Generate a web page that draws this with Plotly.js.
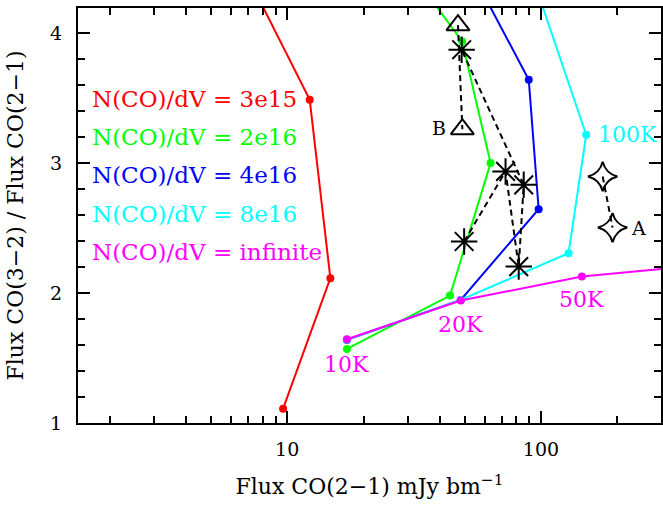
<!DOCTYPE html>
<html>
<head>
<meta charset="utf-8">
<script src="https://cdn.plot.ly/plotly-3.0.1.min.js"></script>
<style>html,body{margin:0;padding:0;background:#fff;}#chart{width:663px;height:506px;}</style>
</head>
<body>
<div id="chart"></div>
<script>
// Model tracks: points at 10K, 20K, 50K, 100K, (next point above the frame)
const redX = [9.64, 14.8, 12.27, 6.33];
const redY = [1.11, 2.114, 3.487, 4.6];
const greenX = [17.2, 43.8, 63.3, 48.9, 30.0];
const greenY = [1.570, 1.980, 2.999, 3.935, 4.5];
const blueX = [17.2, 48.3, 97.9, 89.5, 49.2];
const blueY = [1.639, 1.947, 2.645, 3.640, 4.6];
const cyanX = [17.2, 48.3, 128.4, 150.7, 86.5];
const cyanY = [1.640, 1.947, 2.306, 3.217, 4.6];
const magentaX = [17.2, 48.3, 144.9, 400];
const magentaY = [1.644, 1.942, 2.126, 2.21];

// Observed sources
const starX = [49.8, 72.5, 81.7, 85.5, 48.7];
const starY = [2.396, 2.935, 2.203, 2.832, 3.871];
const triX = [47.1, 49.0];
const triY = [4.06, 3.26];
const aX = [175, 191.4];
const aY = [2.896, 2.503];

const legendLabels = ['N(CO)/dV = 3e15', 'N(CO)/dV = 2e16', 'N(CO)/dV = 4e16', 'N(CO)/dV = 8e16', 'N(CO)/dV = infinite'];
const legendColors = ['#ff0000', '#00ff00', '#0000ff', '#00ffff', '#ff00ff'];

const tempLabels = ['10K', '20K', '50K', '100K'];
const tempLabelX = [17.2, 48.4, 145, 165.2];
const tempLabelY = [1.447, 1.754, 1.947, 3.217];
const tempLabelColors = ['#ff00ff', '#ff00ff', '#ff00ff', '#00ffff'];

const srcLabels = ['B', 'A'];
const srcLabelX = [39.7, 241.5];
const srcLabelY = [3.271, 2.50];

const xMajor = [10, 100];
const xMinor = [2,3,4,5,6,7,8,9,20,30,40,50,60,70,80,90,200,300];
const yMajor = [1, 2, 3, 4];

const FONT = 'DejaVu Serif';

function track(x, y, color) {
  return {x: x, y: y, type: 'scatter', mode: 'lines+markers',
    line: {color: color, width: 2}, marker: {color: color, size: 8},
    showlegend: false, hoverinfo: 'skip'};
}

const traces = [
  track(redX, redY, legendColors[0]),
  track(greenX, greenY, legendColors[1]),
  track(blueX, blueY, legendColors[2]),
  track(cyanX, cyanY, legendColors[3]),
  track(magentaX, magentaY, legendColors[4]),
  {x: starX, y: starY, type: 'scatter', mode: 'lines+markers',
   line: {color: '#000', width: 2, dash: '6px,4px'},
   marker: {symbol: 'asterisk-open', size: 22, line: {color: '#000', width: 2}},
   showlegend: false},
  {x: triX, y: triY, type: 'scatter', mode: 'lines+markers',
   line: {color: '#000', width: 2, dash: '6px,4px'},
   marker: {symbol: 'triangle-up-open', size: 20, color: '#000', line: {color: '#000', width: 2}},
   showlegend: false},
  {x: aX, y: aY, type: 'scatter', mode: 'lines+markers',
   line: {color: '#000', width: 2, dash: '6px,4px'},
   marker: {symbol: 'star-diamond-open', size: 21, color: '#000', line: {color: '#000', width: 2}},
   showlegend: false}
];

const annotations = [];
legendLabels.forEach((t, i) => {
  annotations.push({xref: 'paper', yref: 'paper', x: 0.02, y: 0.781 - i * 0.0923,
    xanchor: 'left', yanchor: 'middle', showarrow: false, text: t,
    font: {family: FONT, size: 23, color: legendColors[i]}});
});
tempLabels.forEach((t, i) => {
  annotations.push({xref: 'x', yref: 'y', x: Math.log10(tempLabelX[i]), y: tempLabelY[i],
    xanchor: i === 3 ? 'left' : 'center', yanchor: 'middle', showarrow: false, text: t,
    font: {family: FONT, size: 22, color: tempLabelColors[i]}});
});
srcLabels.forEach((t, i) => {
  annotations.push({xref: 'x', yref: 'y', x: Math.log10(srcLabelX[i]), y: srcLabelY[i],
    xanchor: 'center', yanchor: 'middle', showarrow: false, text: t,
    font: {family: FONT, size: 19, color: '#000'}});
});

const layout = {
  width: 663, height: 506,
  margin: {l: 78, r: 2, t: 8, b: 83},
  paper_bgcolor: '#fff', plot_bgcolor: '#fff',
  showlegend: false,
  xaxis: {
    type: 'log', range: [Math.log10(1.5), Math.log10(297)],
    tickvals: xMajor, ticktext: xMajor.map(String),
    ticks: 'inside', ticklen: 12, tickwidth: 2, tickcolor: '#000',
    showline: true, linewidth: 2, linecolor: '#000', mirror: 'ticks',
    showgrid: false, zeroline: false,
    minor: {tickvals: xMinor, ticks: 'inside', ticklen: 7, tickwidth: 2, tickcolor: '#000', showgrid: false},
    tickfont: {family: FONT, size: 19, color: '#000'},
    ticklabelstandoff: 8,
    title: {text: 'Flux CO(2−1) mJy bm<sup>−1</sup>', font: {family: FONT, size: 22, color: '#000'}, standoff: 20}
  },
  yaxis: {
    range: [1, 4.192],
    tickvals: yMajor, ticktext: yMajor.map(String),
    ticks: 'inside', ticklen: 12, tickwidth: 2, tickcolor: '#000',
    showline: true, linewidth: 2, linecolor: '#000', mirror: 'ticks',
    showgrid: false, zeroline: false,
    minor: {dtick: 0.2, ticks: 'inside', ticklen: 7, tickwidth: 2, tickcolor: '#000', showgrid: false},
    tickfont: {family: FONT, size: 19, color: '#000'},
    ticklabelstandoff: 10,
    title: {text: 'Flux CO(3−2) / Flux CO(2−1)', font: {family: FONT, size: 22, color: '#000'}, standoff: 20}
  },
  annotations: annotations
};

Plotly.newPlot('chart', traces, layout, {displayModeBar: false, staticPlot: true});
</script>
</body>
</html>
